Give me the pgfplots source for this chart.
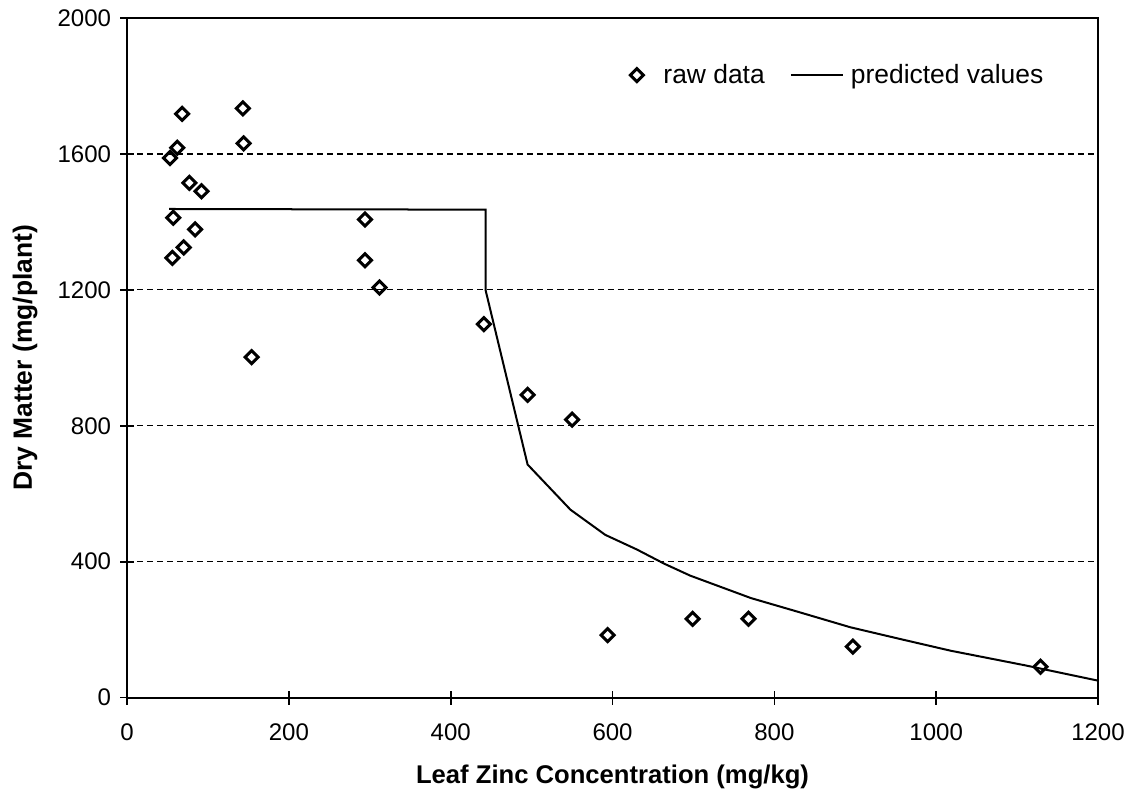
\documentclass[border=0pt]{standalone}
\usepackage{fontspec}
\setmainfont{Liberation Sans}
\usepackage{pgfplots}
\pgfplotsset{compat=1.18}
\pgfplotsset{
  rawleg/.style={legend image code/.code={
    \draw[##1,only marks] plot coordinates {(0pt,0pt)};}},
  lineleg/.style={legend image code/.code={
    \draw[##1] (0pt,0pt) -- (26pt,0pt);}},
}

\begin{document}
\begin{tikzpicture}
\begin{axis}[
  scale only axis,
  width=485pt,height=339.5pt,
  xmin=0,xmax=1200,ymin=0,ymax=2000,
  xtick={0,200,...,1200},ytick={0,400,...,2000},
  xtick pos=bottom,ytick pos=left,
  tick align=center,
  major tick length=7pt,
  tick style={black,line width=0.8pt},
  axis line style={line width=1pt},
  /pgf/number format/assume math mode=true,
  /pgf/number format/1000 sep={},
  tick label style={font=\fontsize{12}{14}\selectfont},
  xticklabel style={yshift=-6pt},
  yticklabel style={xshift=-1pt},
  ymajorgrids,
  grid style={black,densely dashed,line width=0.6pt},
  xlabel={Leaf Zinc Concentration (mg/kg)},
  ylabel={Dry Matter (mg/plant)},
  xlabel style={font=\bfseries\fontsize{12.8}{15}\selectfont,
    at={(axis description cs:0.5,-0.1163)},anchor=center},
  ylabel style={font=\bfseries\fontsize{13.2}{15}\selectfont,
    at={(axis description cs:-0.105,0.5)},anchor=center},
  legend style={draw=none,fill=none,inner sep=0pt,at={(0.518,0.916)},anchor=west,
    font=\fontsize{13.2}{15}\selectfont,legend columns=2,
    nodes={inner sep=2pt},
    /tikz/every even column/.append style={column sep=10.5pt}},
]
\addplot[only marks,mark=square,mark size=2.3pt,
  mark options={black,line width=1.5pt,fill=white,rotate=45},rawleg] coordinates {
  (53,1588)(56,1294)(57,1412)(62,1618)(68,1718)(70,1325)(77,1515)(84,1378)
  (92,1490)(143,1734)(144,1631)(154,1002)(294,1407)(294,1287)(312,1207)
  (441,1099)(495,891)(550,818)(594,184)(699,232)(768,232)(897,150)(1129,91)};
\addlegendentry{\hspace{8pt}raw data}
\addplot[black,line width=1pt,no marks,lineleg] coordinates {
  (52,1438)(443,1436)(443,1200)(495,686)(548,553)(591,479)(630,436)
  (664,394)(696,359)(771,293)(830,252)(894,207)(960,170)(1018,138)(1110,95)(1200,50)};
\addlegendentry{\hspace{1.5pt}predicted values}
\end{axis}
\pgfresetboundingbox
\useasboundingbox (current axis.south west)++(-63.5pt,-51pt) rectangle ([shift={(16.5pt,9pt)}]current axis.north east);
\end{tikzpicture}
\end{document}
